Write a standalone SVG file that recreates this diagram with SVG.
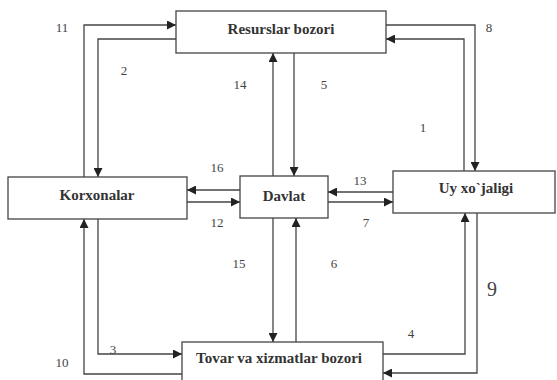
<svg xmlns="http://www.w3.org/2000/svg" width="557" height="380" viewBox="0 0 557 380">
<style>
.box{fill:#fff;stroke:#444;stroke-width:1.3}
.t{font-family:"Liberation Serif",serif;font-weight:bold;font-size:15px;fill:#333;text-anchor:middle;dominant-baseline:central}
.n{font-family:"Liberation Serif",serif;font-size:13px;fill:#444;text-anchor:middle;dominant-baseline:central}
.c{fill:none;stroke:#444;stroke-width:1.3}
</style>
<defs>
<marker id="a" viewBox="0 0 10 10" refX="10" refY="5" markerWidth="9" markerHeight="9" markerUnits="userSpaceOnUse" orient="auto">
<path d="M0,0 L10,5 L0,10 z" fill="#222"/>
</marker>
</defs>
<rect width="557" height="380" fill="#fff"/>
<g id="connectors">
<path class="c" marker-end="url(#a)" d="M84,177 V25 H176"/>
<path class="c" marker-end="url(#a)" d="M176,39 H98 V177"/>
<path class="c" marker-end="url(#a)" d="M273,176 V53"/>
<path class="c" marker-end="url(#a)" d="M294,53 V176"/>
<path class="c" marker-end="url(#a)" d="M386,25 H475 V171"/>
<path class="c" marker-end="url(#a)" d="M464,171 V39 H386"/>
<path class="c" marker-end="url(#a)" d="M240,190 H187"/>
<path class="c" marker-end="url(#a)" d="M187,202 H240"/>
<path class="c" marker-end="url(#a)" d="M393,192 H328"/>
<path class="c" marker-end="url(#a)" d="M328,202 H393"/>
<path class="c" marker-end="url(#a)" d="M98,219 V354 H182"/>
<path class="c" marker-end="url(#a)" d="M182,374 H84 V219"/>
<path class="c" marker-end="url(#a)" d="M273,218 V342"/>
<path class="c" marker-end="url(#a)" d="M296,342 V218"/>
<path class="c" marker-end="url(#a)" d="M383,354 H465 V213"/>
<path class="c" marker-end="url(#a)" d="M477,213 V373 H383"/>
<text class="n" x="62" y="27">11</text>
<text class="n" x="124" y="70">2</text>
<text class="n" x="240" y="84">14</text>
<text class="n" x="324" y="84">5</text>
<text class="n" x="489" y="27">8</text>
<text class="n" x="423" y="127">1</text>
<text class="n" x="217" y="167">16</text>
<text class="n" x="217" y="222">12</text>
<text class="n" x="360" y="180">13</text>
<text class="n" x="366" y="222">7</text>
<text class="n" x="239" y="263">15</text>
<text class="n" x="334" y="263">6</text>
<text class="n" x="113" y="349">3</text>
<text class="n" x="62" y="362">10</text>
<text class="n" x="411" y="333">4</text>
<text class="n" x="492" y="289" style="font-size:20px">9</text>
</g>
<g id="resurslar">
<rect class="box" x="176" y="11" width="210" height="42"/>
<text class="t" x="281" y="29">Resurslar bozori</text>
</g>
<g id="korxonalar">
<rect class="box" x="8" y="177" width="179" height="42"/>
<text class="t" x="97" y="195">Korxonalar</text>
</g>
<g id="davlat">
<rect class="box" x="240" y="176" width="88" height="42"/>
<text class="t" x="284" y="196">Davlat</text>
</g>
<g id="uy">
<rect class="box" x="393" y="171" width="162" height="42"/>
<text class="t" x="476" y="188">Uy xo`jaligi</text>
</g>
<g id="tovar">
<rect class="box" x="182" y="342" width="201" height="42"/>
<text class="t" x="279" y="358">Tovar va xizmatlar bozori</text>
</g>
</svg>
